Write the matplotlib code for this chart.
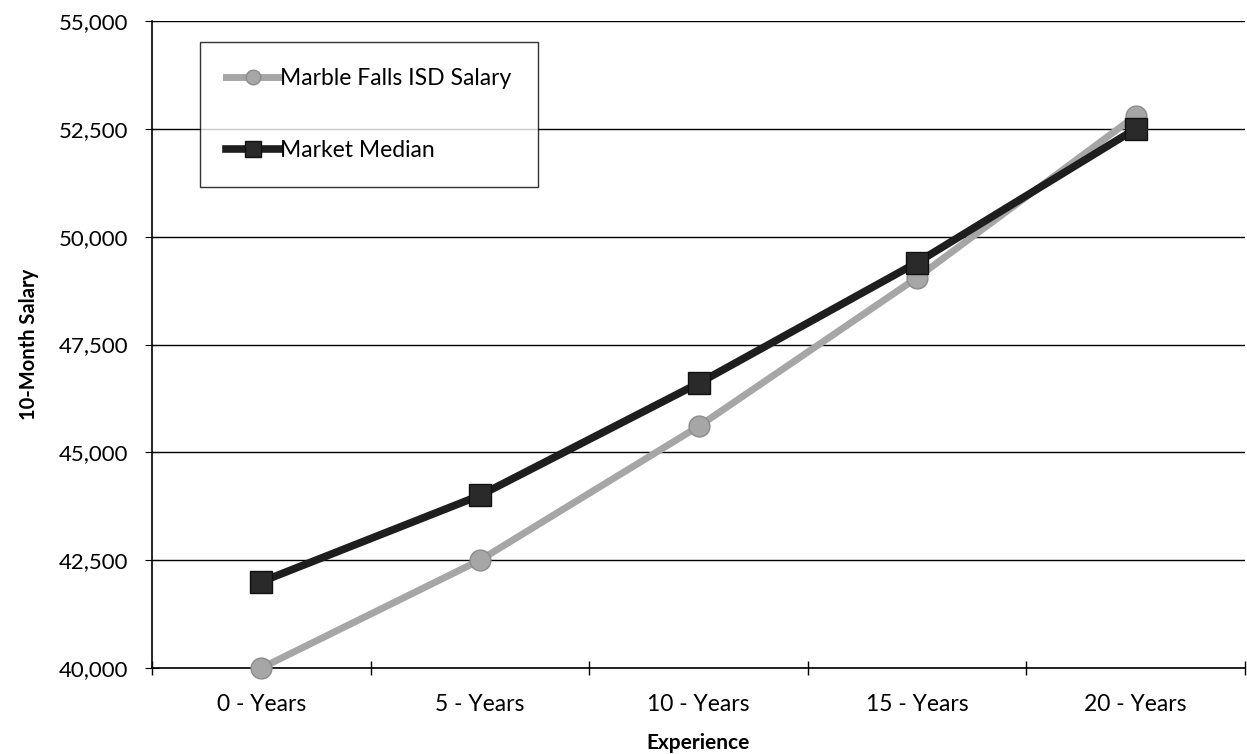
import numpy as np
import matplotlib.pyplot as plt
from matplotlib.ticker import FuncFormatter, MultipleLocator

plt.rcParams['font.family'] = ['Lato', 'DejaVu Sans']

# Данные
categories = ['0 - Years', '5 - Years', '10 - Years', '15 - Years', '20 - Years']
marble_falls = [40000, 42500, 45600, 49050, 52800]
market_median = [42000, 44000, 46600, 49400, 52500]

x = np.arange(len(categories))

fig = plt.figure(figsize=(12.47, 7.54), dpi=100)
ax = fig.add_axes([152 / 1247, 1 - 668 / 754, (1245 - 152) / 1247, (668 - 21) / 754])

# Сетка
ax.set_axisbelow(True)
ax.yaxis.grid(True, color='black', linewidth=1.0)

ax.plot(x, marble_falls, color='#a6a6a6', linewidth=5, marker='o', markersize=15,
        markerfacecolor='#a6a6a6', markeredgecolor='#8c8c8c', markeredgewidth=1,
        label='Marble Falls ISD Salary', zorder=3, clip_on=False)
ax.plot(x, market_median, color='#1e1e1e', linewidth=5.5, marker='s', markersize=16,
        markerfacecolor='#2a2a2a', markeredgecolor='#111111', markeredgewidth=1,
        label='Market Median', zorder=4, clip_on=False)

ax.set_xlim(-0.5, len(categories) - 0.5)
ax.set_ylim(40000, 55000)
ax.yaxis.set_major_locator(MultipleLocator(2500))
ax.yaxis.set_major_formatter(FuncFormatter(lambda v, p: f'{int(v):,}'))

ax.set_xticks(x)
ax.set_xticklabels(categories)
ax.set_xticks(np.arange(-0.5, len(categories), 1), minor=True)
ax.tick_params(axis='x', which='major', length=0, labelsize=16.5, pad=19)
ax.tick_params(axis='x', which='minor', length=10, direction='inout', width=1)
ax.tick_params(axis='y', length=10, direction='inout', labelsize=16, pad=12)

for s in ['top', 'right']:
    ax.spines[s].set_visible(False)
ax.spines['left'].set_linewidth(1.2)
ax.spines['bottom'].set_linewidth(1.2)

ax.set_xlabel('Experience', fontsize=15, fontweight='bold', labelpad=13)
ax.set_ylabel('10-Month Salary', fontsize=14.5, fontweight='bold', labelpad=14)

leg = ax.legend(loc='upper left', bbox_to_anchor=(48 / 1093, 1 - 21 / 647), fontsize=16.5,
                frameon=True, fancybox=False, handlelength=2.3, handletextpad=0.05,
                labelspacing=2.2, borderpad=1.15, borderaxespad=0, markerscale=0.7)
leg.get_frame().set_edgecolor('black')
leg.get_frame().set_linewidth(1.0)

plt.savefig('out.png', dpi=100)
